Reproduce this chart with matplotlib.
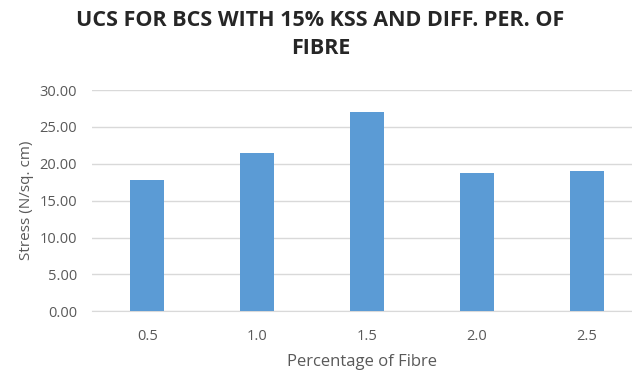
import numpy as np
import matplotlib.pyplot as plt

# fibre content (%) and unconfined compressive strength
fibre = ['0.5', '1.0', '1.5', '2.0', '2.5']
stress = [17.8, 21.5, 27.0, 18.7, 19.0]
yticks = [0, 5, 10, 15, 20, 25, 30]

plt.rcParams['font.family'] = ['Open Sans', 'DejaVu Sans']

fig = plt.figure(figsize=(6.32, 3.72), dpi=100)
ax = fig.add_axes([0.146, 0.163, 0.854, 0.595])

x = np.arange(len(fibre))
ax.bar(x, stress, width=0.31, color='#5B9BD5', zorder=3)

ax.set_xlim(-0.5, 4.41)
ax.set_ylim(0, 30)
ax.set_yticks(yticks)
ax.set_yticklabels(['%.2f' % v for v in yticks])
ax.set_xticks(x)
ax.set_xticklabels(fibre)
ax.yaxis.grid(True, color='#D9D9D9', linewidth=1, zorder=0)
ax.tick_params(axis='both', length=0, labelsize=10.5, labelcolor='#595959')
ax.tick_params(axis='y', pad=11)
ax.tick_params(axis='x', pad=13)
for s in ['top', 'right', 'left']:
    ax.spines[s].set_visible(False)
ax.spines['bottom'].set_color('#D9D9D9')

ax.set_xlabel('Percentage of Fibre', fontsize=12, color='#595959', labelpad=7)
ax.set_ylabel('Stress (N/sq. cm)', fontsize=11, color='#595959', labelpad=4)

fig.text(0.507, 0.972, 'UCS FOR BCS WITH 15% KSS AND DIFF. PER. OF\nFIBRE',
         ha='center', va='top', fontsize=15.5, fontweight='bold',
         color='#262626', linespacing=1.4)

fig.savefig('out.png', dpi=100)
